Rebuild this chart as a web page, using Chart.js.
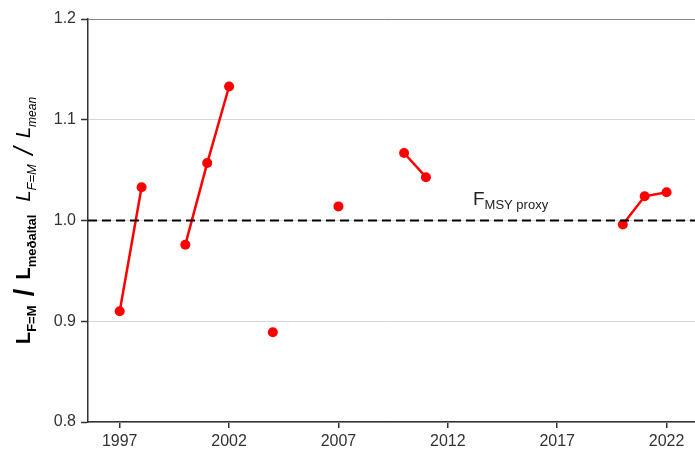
<!DOCTYPE html>
<html>
<head>
<meta charset="utf-8">
<script src="https://cdn.jsdelivr.net/npm/chart.js@4.4.0/dist/chart.umd.min.js"></script>
<style>
  body { margin: 0; background: #fff; }
  #wrap { width: 695px; height: 451px; }
</style>
</head>
<body>
<div id="wrap"><canvas id="myChart" width="695" height="451"></canvas></div>
<script>
// values
const years = [1997, 1998, 1999, 2000, 2001, 2002, 2003, 2004, 2005, 2006, 2007, 2008, 2009, 2010, 2011,
               2012, 2013, 2014, 2015, 2016, 2017, 2018, 2019, 2020, 2021, 2022];
const ratio = [0.910, 1.033, null, 0.976, 1.057, 1.133, null, 0.889, null, null, 1.014, null, null, 1.067, 1.043,
               null, null, null, null, null, null, null, null, 0.996, 1.024, 1.028];
const xTicks = [1997, 2002, 2007, 2012, 2017, 2022];
const yTicks = [0.8, 0.9, 1.0, 1.1, 1.2];
const fmsy = 1.0;
const fmsyLabelPos = [2013.15, 1.015];

const font = "'Liberation Sans', Arial, Helvetica, sans-serif";
const ctx = document.getElementById('myChart').getContext('2d');

const extras = {
    id: 'extras',
    afterDatasetsDraw(chart) {
        const c = chart.ctx;
        const ys = chart.scales.y;
        const area = chart.chartArea;
        // dashed reference line
        const y0 = ys.getPixelForValue(fmsy);
        c.save();
        c.strokeStyle = '#000';
        c.lineWidth = 2;
        c.setLineDash([9, 5]);
        c.beginPath();
        c.moveTo(area.left, y0);
        c.lineTo(area.right, y0);
        c.stroke();
        c.restore();
    },
    afterDraw(chart) {
        const c = chart.ctx;
        const xs = chart.scales.x, ys = chart.scales.y;
        // F_MSY proxy label
        c.save();
        c.fillStyle = '#222';
        c.textBaseline = 'alphabetic';
        let lx = xs.getPixelForValue(fmsyLabelPos[0]);
        let ly = ys.getPixelForValue(fmsyLabelPos[1]);
        c.font = '19px ' + font;
        c.fillText('F', lx, ly);
        lx += c.measureText('F').width;
        c.font = '13px ' + font;
        c.fillText('MSY proxy', lx, ly + 4);
        c.restore();

        // y axis title, rotated: [text, font, baseline shift, fixed advance]
        const parts = [
            ['L', 'bold 20px', 0], ['F=M', 'bold 13px', 6], ['/', 'bold 27px', 3, 26],
            ['L', 'bold 20px', 0], ['meðaltal', 'bold 13px', 6], ['', '12px', 0, 13],
            ['L', 'italic 20px', 0], ['F=M', 'italic 13px', 6], ['/', 'italic 27px', 3, 26],
            ['L', 'italic 20px', 0], ['mean', 'italic 12px', 6]
        ];
        const adv = p => {
            c.font = p[1] + ' ' + font;
            return p[3] !== undefined ? p[3] : c.measureText(p[0]).width;
        };
        let total = 0;
        parts.forEach(p => { total += adv(p); });
        const cy = (chart.chartArea.top + chart.chartArea.bottom) / 2;
        c.save();
        c.translate(30, cy);
        c.rotate(-Math.PI / 2);
        c.fillStyle = '#000';
        c.textBaseline = 'alphabetic';
        let px = -total / 2;
        parts.forEach(p => {
            const a = adv(p);
            c.font = p[1] + ' ' + font;
            const w = c.measureText(p[0]).width;
            c.fillText(p[0], px + (a - w) / 2, p[2]);
            px += a;
        });
        c.restore();
    }
};

let myChart = new Chart(ctx, {
    type: 'line',
    data: {
        datasets: [{
            label: 'ratio',
            data: years.map((y, i) => ({ x: y, y: ratio[i] })),
            borderColor: '#ff0000',
            backgroundColor: '#ff0000',
            borderWidth: 2.5,
            pointRadius: 5,
            pointHoverRadius: 5,
            pointBorderWidth: 0,
            spanGaps: false,
            tension: 0
        }]
    },
    options: {
        responsive: false,
        devicePixelRatio: 1,
        animation: false,
        layout: { autoPadding: false, padding: { top: 19, left: 0, right: 0, bottom: 0 } },
        plugins: {
            legend: { display: false },
            tooltip: { enabled: false }
        },
        scales: {
            x: {
                type: 'linear',
                min: 1995.55,
                max: 2023.3,
                afterBuildTicks: scale => { scale.ticks = xTicks.map(v => ({ value: v })); },
                afterFit: scale => { scale.height = 29; scale.paddingLeft = 0; scale.paddingRight = 0; },
                grid: { drawOnChartArea: false, drawTicks: true, tickLength: 6, color: '#333', lineWidth: 1.5 },
                border: { display: true, color: '#333', width: 1.5 },
                ticks: {
                    color: '#333',
                    padding: 4,
                    maxRotation: 0,
                    font: { family: font, size: 16 },
                    callback: v => String(v)
                }
            },
            y: {
                min: 0.8,
                max: 1.2,
                afterBuildTicks: scale => { scale.ticks = yTicks.map(v => ({ value: v })); },
                afterFit: scale => { scale.width = 88; },
                grid: {
                    drawTicks: true,
                    tickLength: 7,
                    tickColor: '#333',
                    tickWidth: 1.5,
                    color: ctx => ctx.tick && ctx.tick.value === 1.2 ? '#888' : '#d6d6d6',
                    lineWidth: 1
                },
                border: { display: true, color: '#333', width: 1.5 },
                ticks: {
                    color: '#333',
                    padding: 5,
                    font: { family: font, size: 16 },
                    callback: v => Number(v).toFixed(1)
                }
            }
        }
    },
    plugins: [extras]
});
</script>
</body>
</html>
